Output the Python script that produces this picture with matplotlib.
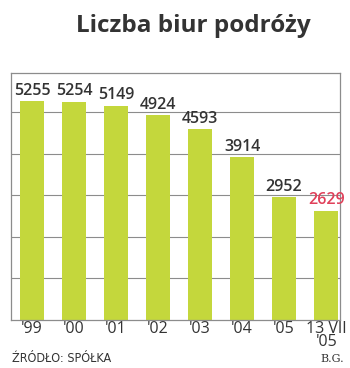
import numpy as np
import matplotlib.pyplot as plt

# data
years = ["'99", "'00", "'01", "'02", "'03", "'04", "'05", "13 VII\n'05"]
counts = [5255, 5254, 5149, 4924, 4593, 3914, 2952, 2629]

bar_color = '#c4d73c'
grid_color = '#8c8c8c'
text_color = '#333333'

fig = plt.figure(figsize=(3.5, 3.68), dpi=100)
ax = fig.add_axes([11/350, 1 - 320/368, 329/350, 247/368])

x = np.arange(len(counts))
ax.bar(x, counts, width=0.56, color=bar_color, zorder=2)

# value labels, the last one in red
for i, v in enumerate(counts):
    c = '#e0405a' if i == len(counts) - 1 else text_color
    ax.text(i, v + 60, str(v), ha='center', va='bottom', clip_on=False,
            fontsize=11.5, fontweight='semibold', color=c, family='Open Sans')

ax.set_xlim(-0.5, 7.33)
ax.set_ylim(0, 5940)
ax.set_yticks([1000, 2000, 3000, 4000, 5000])
ax.yaxis.grid(True, color=grid_color, lw=0.8, zorder=0)
ax.tick_params(axis='y', length=0, labelleft=False)
ax.tick_params(axis='x', length=0, pad=1)
ax.set_xticks(x)
ax.set_xticklabels(years, fontsize=11.5, color=text_color, family='Open Sans',
                   linespacing=0.75)
for s in ax.spines.values():
    s.set_color(grid_color)
    s.set_linewidth(0.9)

fig.text(193/350, 1 - 26/368, 'Liczba biur podróży', ha='center', va='center',
         fontsize=17.5, fontweight='bold', color=text_color, family='Open Sans')
fig.text(12/350, 1 - 358/368, 'ŹRÓDŁO: SPÓŁKA', ha='left', va='center',
         fontsize=9, color=text_color, family='DejaVu Sans', fontstretch='condensed')
fig.text(344/350, 1 - 359/368, 'B.G.', ha='right', va='center',
         fontsize=8, color=text_color, family='DejaVu Serif')

fig.savefig('out.png', dpi=100)
